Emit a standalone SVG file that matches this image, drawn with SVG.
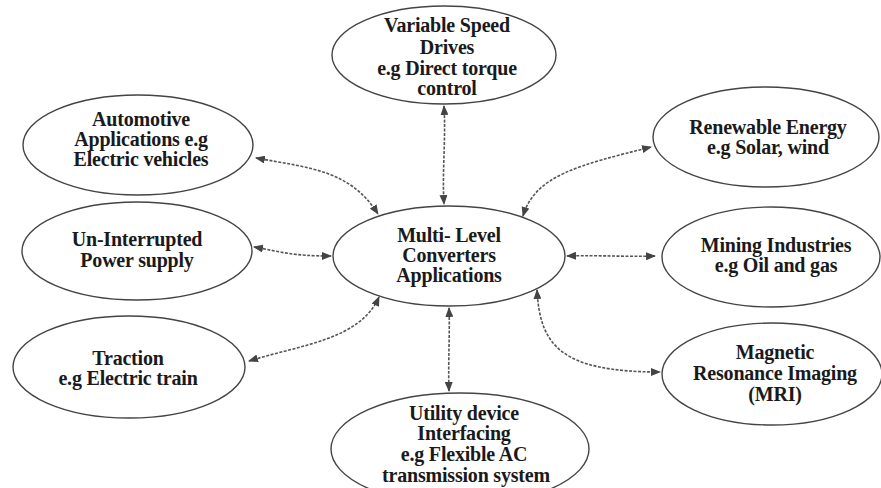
<svg xmlns="http://www.w3.org/2000/svg" width="881" height="488" viewBox="0 0 881 488">
<defs>
<marker id="ah" viewBox="0 0 10 8" refX="9" refY="4" markerWidth="10" markerHeight="8" markerUnits="userSpaceOnUse" orient="auto-start-reverse">
<path d="M0,0 L10,4 L0,8 Z" fill="#444"/>
</marker>
<style>
.node ellipse{fill:#fff;stroke:#444;stroke-width:1.4}
.node text{font-family:"Liberation Serif","Times New Roman",serif;font-size:20px;font-weight:bold;fill:#1a1a1a;text-anchor:middle;letter-spacing:-0.2px}
.conn path{fill:none;stroke:#555;stroke-width:1.6;stroke-dasharray:3 1.5;marker-start:url(#ah);marker-end:url(#ah)}
</style>
</defs>
<rect width="881" height="488" fill="#fff"/>
<g id="connectors" class="conn">
<path d="M444,106 C446,140 442,170 444,204"/>
<path d="M256,158 C310,168 350,170 378,214"/>
<path d="M254,247 C282,252 292,256 331,256"/>
<path d="M249,361 C300,345 360,340 379,297"/>
<path d="M449,308 C450,335 448,360 449,391"/>
<path d="M537,290 C540,345 560,372 660,372"/>
<path d="M567,256 C600,255 625,257 655,256"/>
<path d="M523,216 C535,175 580,165 651,147"/>
</g>
<g id="n-vsd" class="node">
<ellipse cx="444" cy="55" rx="112" ry="49"/>
<text x="447" y="32">Variable Speed</text>
<text x="447" y="54">Drives</text>
<text x="447" y="75">e.g Direct torque</text>
<text x="447" y="95">control</text>
</g>
<g id="n-center" class="node">
<ellipse cx="449" cy="256" rx="116" ry="50"/>
<text x="449" y="242">Multi- Level</text>
<text x="449" y="262">Converters</text>
<text x="449" y="282">Applications</text>
</g>
<g id="n-auto" class="node">
<ellipse cx="138" cy="145" rx="115" ry="50"/>
<text x="141" y="126">Automotive</text>
<text x="141" y="146">Applications e.g</text>
<text x="141" y="166">Electric vehicles</text>
</g>
<g id="n-ups" class="node">
<ellipse cx="137" cy="251" rx="115" ry="49"/>
<text x="137" y="246">Un-Interrupted</text>
<text x="137" y="267">Power supply</text>
</g>
<g id="n-traction" class="node">
<ellipse cx="129" cy="367" rx="116" ry="51"/>
<text x="128" y="365">Traction</text>
<text x="128" y="385">e.g Electric train</text>
</g>
<g id="n-utility" class="node">
<ellipse cx="460" cy="449" rx="129" ry="56"/>
<text x="464" y="420">Utility device</text>
<text x="464" y="440">Interfacing</text>
<text x="464" y="461">e.g Flexible AC</text>
<text x="466" y="482">transmission system</text>
</g>
<g id="n-mri" class="node">
<ellipse cx="772" cy="374" rx="110" ry="51"/>
<text x="775" y="359">Magnetic</text>
<text x="775" y="380">Resonance Imaging</text>
<text x="775" y="401">(MRI)</text>
</g>
<g id="n-renew" class="node">
<ellipse cx="766" cy="137" rx="113" ry="50"/>
<text x="768" y="134">Renewable Energy</text>
<text x="768" y="154">e.g Solar, wind</text>
</g>
<g id="n-mining" class="node">
<ellipse cx="771" cy="257" rx="109" ry="50"/>
<text x="776" y="252">Mining Industries</text>
<text x="776" y="272">e.g Oil and gas</text>
</g>
</svg>
